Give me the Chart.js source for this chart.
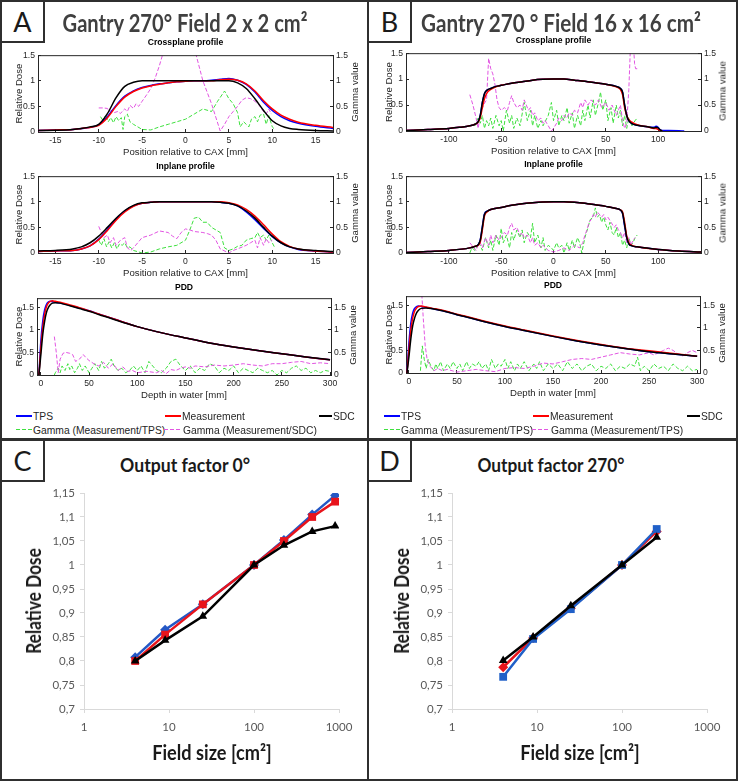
<!DOCTYPE html>
<html>
<head>
<meta charset="utf-8">
<script src="https://cdn.jsdelivr.net/npm/chart.js@4.4.0/dist/chart.umd.min.js"></script>
<style>
  body { margin: 0; background: #fff; }
  #fig { position: relative; width: 738px; height: 781px; overflow: hidden; background: #fff; font-family: "Liberation Sans", Arial, sans-serif; color: #262626; }
  canvas { position: absolute; }
  .t { position: absolute; white-space: nowrap; transform: translate(-50%, -50%); }
  .line { position: absolute; background: #2f2f2f; }
  .lab { position: absolute; box-sizing: border-box; border: 2px solid #2f2f2f; background: #fff;
         font-family: Lato, "Open Sans", sans-serif; font-size: 27px; color: #1a1a1a;
         display: flex; align-items: center; justify-content: center; }
  .big { font-family: Lato, "Open Sans", sans-serif; font-weight: 700; color: #404040; }
  .sub { font-weight: 700; font-size: 8.6px; color: #000; }
  .leg { position: absolute; font-size: 10.3px; color: #262626; white-space: nowrap; transform: translateY(-50%); }
  .sw { position: absolute; }
</style>
</head>
<body>
<div id="fig"></div>
<script>
// ---------- Panel A : 2 x 2 cm2 ----------
const aProfX = [-17,-15,-13,-12,-11,-10,-9,-8,-7,-6,-5,-4,-3,-2,-1,0,1,2,3,4,5,6,7,8,9,10,11,12,13,15,17];
const aCrossTPS  = [0.03,0.04,0.05,0.07,0.09,0.14,0.3,0.52,0.7,0.8,0.87,0.91,0.94,0.96,0.98,0.99,1,1,1.01,1.03,1.045,1.01,0.93,0.78,0.58,0.42,0.3,0.22,0.17,0.11,0.07];
const aCrossMeas = [0.03,0.04,0.05,0.07,0.09,0.13,0.28,0.5,0.68,0.79,0.86,0.9,0.93,0.96,0.98,0.99,1,1,1,1.02,1.03,1.01,0.94,0.8,0.61,0.45,0.33,0.25,0.19,0.13,0.09];
const aCrossSDC  = [0.03,0.035,0.05,0.07,0.1,0.15,0.36,0.67,0.89,0.97,1,1,1,1,1,1,1,1,1,1,1,0.96,0.85,0.65,0.42,0.22,0.12,0.07,0.05,0.03,0.02];
const aCrossGTx = [-9.8,-9.5,-9.2,-8.9,-8.6,-8.3,-8,-7.7,-7.4,-7.2,-7,-6.7,-6.4,-6,-5.5,-5,-4,-3,-2,-1,0,1,2,3,3.7,4.5,5,5.5,6,6.3,6.7,7,7.3,7.6,8,8.3,8.6,9,9.3,9.6,10,10.3];
const aCrossGT  = [0.3,0.22,0.33,0.2,0.28,0.18,0.3,0.22,0.28,0.05,0.3,0.35,0.2,0.15,0.1,0.05,0.04,0.1,0.15,0.2,0.25,0.35,0.45,0.4,0.6,0.8,0.65,0.55,0.38,0.1,0.2,0.15,0.1,0.25,0.3,0.2,0.33,0.35,0.15,0.32,0.1,0.05];
const aCrossGSx = [-10,-9.5,-9,-8.8,-8.5,-8.2,-7.8,-7.5,-7.2,-7,-6.7,-6.4,-6,-5.7,-5.4,-5,-4.5,-4,-3.5,-3,-2.4,1,2,3,4,4.5,5,5.5,6,6.5,7,7.5,8,8.5,9,9.3,9.6,9.9];
const aCrossGS  = [0.47,0.47,0.46,0.4,0.42,0.38,0.4,0.36,0.42,0.45,0.4,0.52,0.46,0.55,0.5,0.6,0.72,0.85,1.05,1.3,1.65,1.65,1.0,0.55,0.02,0.15,0.3,0.4,0.5,0.62,0.67,0.65,0.6,0.52,0.4,0.35,0.45,0.35];

const aInSDC  = [0.04,0.05,0.08,0.12,0.2,0.33,0.5,0.68,0.83,0.93,0.98,0.99,1,1,1,1,1,1,1,0.99,0.97,0.92,0.82,0.68,0.5,0.33,0.2,0.12,0.08,0.05,0.03];
const aInMeas = [0.03,0.04,0.05,0.08,0.14,0.26,0.44,0.64,0.8,0.91,0.97,0.99,1,1,1,1,1,1,1,1,0.98,0.94,0.85,0.72,0.55,0.37,0.22,0.13,0.08,0.04,0.02];
const aInTPS  = [0.03,0.04,0.05,0.08,0.14,0.27,0.46,0.66,0.82,0.92,0.97,0.99,1,1,1,1,1,1,1,0.99,0.97,0.92,0.8,0.65,0.48,0.32,0.2,0.12,0.07,0.04,0.02];
const aInGTx = [-10,-9.7,-9.4,-9.1,-8.8,-8.5,-8.2,-7.9,-7.6,-7.3,-7,-6.7,-6.4,-6,-5,-4,-3,-2,-1,0,0.5,1,1.5,2,2.5,3,3.5,4,4.5,5,5.5,6,6.5,7,7.5,8,8.3,8.6,9,9.3,9.6,10,10.3];
const aInGT  = [0.25,0.15,0.28,0.12,0.22,0.1,0.2,0.08,0.18,0.15,0.2,0.1,0.12,0.05,0,0.02,0.08,0.12,0.15,0.25,0.45,0.68,0.7,0.6,0.6,0.5,0.45,0.4,0.1,0.05,0.08,0.13,0.15,0.25,0.28,0.3,0.4,0.3,0.35,0.25,0.35,0.2,0.1];
const aInGSx = [-10,-9.7,-9.4,-9,-8.7,-8.3,-8,-7.5,-7,-6.7,-6.3,-6,-5.5,-5,-4,-3,-2,-1.5,-1,-0.5,0,0.5,1,2,2.5,3,3.5,4,5,5.5,6,7,7.5,8,8.3,8.6,9,9.3,9.6,10];
const aInGS  = [0.52,0.4,0.3,0.35,0.2,0.3,0.15,0.25,0.3,0.1,0.05,0.1,0.2,0.3,0.35,0.43,0.4,0.33,0.28,0.4,0.47,0.45,0.42,0.4,0.38,0.35,0.25,0.08,0,0.05,0.08,0.15,0.2,0.25,0.1,0.3,0.15,0.28,0.2,0.25];

const aPddX    = [-2,0,2,4,6,8,10,12,15,20,30,40,50,60,80,100,120,150,175,200,225,250,275,300];
const aPddTPS  = [0,0.75,1.2,1.45,1.57,1.62,1.63,1.62,1.61,1.59,1.54,1.48,1.42,1.35,1.21,1.07,0.96,0.82,0.71,0.62,0.54,0.47,0.4,0.335];
const aPddMeas = [0,0.6,1.05,1.35,1.52,1.6,1.63,1.64,1.63,1.61,1.55,1.49,1.42,1.35,1.21,1.07,0.96,0.82,0.71,0.62,0.54,0.47,0.4,0.335];
const aPddSDC  = [0,0.45,0.9,1.2,1.4,1.5,1.56,1.59,1.6,1.59,1.53,1.47,1.41,1.34,1.2,1.07,0.96,0.82,0.71,0.62,0.54,0.47,0.4,0.34];
const aPddGTx = [14,15,18,20,22,25,28,30,32,35,38,40,43,46,50,53,56,60,63,66,70,73,76,80,84,88,92,96,100,104,108,112,116,120,125,130,135,140,145,150,155,160,165,170,175,180,185,190,195,200,205,210,215,220,225,230,235,240,245,250,255,260,265,270,275,280,285,290,295,300];
const aPddGT  = [0,0.05,0.15,0.05,0.2,0.1,0.25,0.12,0.2,0.05,0.15,0.25,0.1,0.2,0.05,0.15,0.25,0.1,0.3,0.15,0.25,0.35,0.2,0.1,0.15,0.05,0.1,0.2,0.1,0.2,0.05,0.3,0.2,0.1,0.05,0.15,0.3,0.35,0.2,0.1,0.2,0.05,0.15,0.1,0.25,0.2,0.05,0.15,0.1,0.2,0.05,0.15,0.1,0.05,0.15,0.1,0.05,0.1,0,0.1,0.05,0.15,0.2,0.1,0.15,0.05,0.1,0.05,0.1,0.08];
const aPddGSx = [14,16,18,20,23,26,30,33,36,40,44,47,50,55,60,65,70,75,80,85,90,95,100,110,120,125,130,135,140,145,150,155,160,170,180,190,200,210,220,230,240,250,260,270,280,290,300];
const aPddGS  = [0.85,0.5,0.05,0.35,0.48,0.5,0.48,0.45,0.3,0.35,0.45,0.38,0.32,0.25,0.2,0.28,0.15,0.25,0.1,0.18,0.08,0.1,0.05,0.08,0.05,0.1,0.03,0.12,0.1,0.15,0.18,0.15,0.2,0.18,0.22,0.2,0.22,0.25,0.22,0.2,0.25,0.25,0.28,0.3,0.25,0.27,0.25];

// ---------- Panel B : 16 x 16 cm2 ----------
const bProfX = [-141,-120,-100,-90,-80,-75,-72,-70,-68,-66,-64,-60,-55,-50,-40,-30,-20,-10,0,10,20,30,40,50,60,64,66,68,70,72,75,80,90,96,98,100,102,104];
const bCrossSDC  = [0.01,0.03,0.05,0.07,0.1,0.13,0.18,0.3,0.55,0.72,0.78,0.82,0.86,0.88,0.92,0.95,0.98,0.995,1,1,0.98,0.96,0.93,0.9,0.86,0.82,0.75,0.5,0.3,0.2,0.14,0.11,0.08,0.06,0.07,0.06,0.02,0];
const bCrossMeas = [0.01,0.03,0.05,0.07,0.1,0.13,0.17,0.26,0.45,0.62,0.72,0.8,0.85,0.88,0.92,0.95,0.98,0.995,1,1,0.98,0.96,0.93,0.9,0.85,0.8,0.7,0.45,0.3,0.22,0.17,0.12,0.08,0.05,0.05,0.03,0.01,0];
const bCrossTPSX = [-141,-120,-100,-90,-80,-75,-72,-70,-68,-66,-64,-60,-55,-50,-40,-30,-20,-10,0,10,20,30,40,50,60,64,66,68,70,72,75,80,90,96,98,100,102,104,110,125];
const bCrossTPS  = [0.01,0.03,0.05,0.07,0.1,0.13,0.18,0.3,0.55,0.72,0.78,0.82,0.86,0.88,0.92,0.95,0.98,0.995,1,1,0.98,0.96,0.93,0.9,0.86,0.82,0.75,0.5,0.3,0.2,0.14,0.11,0.08,0.07,0.09,0.07,0.02,0.01,0.01,0];
const bCrossGTx = [-75,-72,-70,-68,-66,-64,-62,-60,-58,-55,-52,-50,-48,-45,-42,-40,-38,-35,-32,-28,-25,-22,-20,-18,-15,-12,-10,-5,-2,0,3,5,8,10,13,15,18,20,23,26,28,30,33,35,38,40,43,45,47,50,52,55,57,60,62,64,66,68,70,72,75,78,80];
const bCrossGT  = [0.1,0.25,0.15,0.3,0.05,0.2,0.1,0.25,0.05,0.3,0.1,0.2,0,0.4,0.15,0.3,0.05,0.25,0.1,0.55,0.2,0.4,0.1,0.3,0.05,0.2,0.1,0.3,0.55,0.2,0.4,0.1,0.3,0.2,0.45,0.15,0.35,0.05,0.3,0.1,0.4,0.2,0.5,0.25,0.6,0.3,0.55,0.75,0.4,0.6,0.2,0.45,0.15,0.5,0.25,0.4,0.1,0.3,0.05,0.25,0.1,0.2,0.25];
const bCrossGSx = [-80,-77,-74,-72,-70,-67,-64,-62,-60,-58,-56,-54,-52,-50,-47,-44,-42,-40,-38,-35,-32,-30,-28,-26,-24,-22,-20,-18,-15,-12,-10,-8,-5,-2,0,3,5,8,10,13,15,18,20,23,26,28,30,33,36,40,43,46,50,53,56,60,64,66,68,70,72,73.5,76,77.5,78.5,81];
const bCrossGS  = [0.7,0.5,0.25,0.05,0.3,0.5,0.6,1.4,1.2,1.1,0.9,0.6,0.45,0.4,0.45,0.4,0.55,0.68,0.55,0.45,0.5,0.4,0.6,0.5,0.4,0.45,0.3,0.35,0.2,0.25,0.15,0.2,0.1,0,0.05,0.15,0.25,0.2,0.3,0.25,0.35,0.3,0.4,0.35,0.55,0.45,0.6,0.5,0.6,0.5,0.6,0.45,0.55,0.4,0.5,0.3,0.5,0.2,0.05,0.15,0.8,1.6,1.8,1.3,1.2,1.2];

const bInX    = [-141,-120,-100,-80,-75,-72,-70,-68,-66,-63,-60,-50,-40,-30,-20,-10,0,10,20,30,40,50,60,64,66,68,70,72,75,80,100,120,141];
const bInSDC  = [0.01,0.03,0.05,0.1,0.13,0.16,0.25,0.5,0.75,0.82,0.85,0.89,0.93,0.96,0.98,0.995,1,1,0.99,0.97,0.94,0.91,0.87,0.84,0.78,0.55,0.3,0.18,0.14,0.12,0.07,0.04,0.02];
const bInMeas = [0.01,0.03,0.05,0.1,0.13,0.15,0.22,0.45,0.72,0.81,0.85,0.89,0.93,0.96,0.98,0.995,1,1,0.99,0.97,0.94,0.91,0.87,0.84,0.8,0.6,0.33,0.2,0.15,0.12,0.07,0.04,0.02];
const bInTPS  = [0.01,0.03,0.05,0.1,0.13,0.16,0.26,0.52,0.76,0.82,0.85,0.89,0.93,0.96,0.98,0.995,1,1,0.99,0.97,0.94,0.91,0.87,0.84,0.77,0.52,0.3,0.18,0.14,0.12,0.07,0.04,0.02];
const bInGTx = [-80,-78,-75,-72,-70,-68,-65,-62,-60,-58,-55,-52,-50,-48,-45,-42,-40,-38,-35,-32,-30,-28,-25,-22,-20,-18,-15,-12,-10,-8,-5,-2,0,3,5,8,10,13,15,18,20,23,25,27,30,33,35,38,40,42,44,46,48,50,52,54,56,58,60,62,64,66,68,70,72,74,76,78,80];
const bInGT  = [0,0.1,0.05,0.2,0.15,0.05,0.3,0.1,0.25,0.05,0.35,0.15,0.48,0.2,0.35,0.1,0.4,0.25,0.45,0.3,0.45,0.2,0.4,0.3,0.58,0.2,0.35,0.1,0.3,0.05,0.15,0.1,0.05,0.2,0.1,0.15,0,0.2,0.05,0.25,0.1,0.3,0.2,0,0.3,0.5,0.65,0.7,0.88,0.7,0.75,0.6,0.7,0.55,0.45,0.6,0.4,0.35,0.5,0.3,0.4,0.15,0.25,0.1,0.3,0.15,0.2,0.3,0.35];
const bInGSx = [-80,-78,-76,-74,-72,-70,-68,-65,-62,-60,-58,-55,-52,-50,-47,-44,-42,-40,-38,-35,-32,-30,-28,-25,-22,-20,-18,-15,-12,-10,-5,0,5,10,15,20,25,28,30,32,34,36,38,40,42,44,46,48,50,52,55,58,60,62,64,66,68,70,72,74,76,78];
const bInGS  = [0.2,0.15,0.1,0.05,0.15,0.2,0.1,0.3,0.15,0.35,0.2,0.35,0.25,0.3,0.4,0.35,0.5,0.58,0.45,0.5,0.35,0.4,0.3,0.35,0.2,0.3,0.15,0.2,0.1,0.15,0.05,0.02,0.05,0.1,0.05,0.15,0.1,0.2,0.35,0.45,0.6,0.65,0.75,0.7,0.8,0.75,0.7,0.75,0.65,0.7,0.6,0.5,0.55,0.45,0.4,0.3,0.4,0.2,0.3,0.15,0.25,0.3];

const bPddX    = [-2,0,2,4,6,8,10,13,18,25,30,40,50,60,80,100,120,150,175,200,225,250,275,300];
const bPddTPS  = [0,0.65,1.1,1.33,1.43,1.47,1.48,1.47,1.45,1.42,1.4,1.35,1.29,1.24,1.13,1.03,0.94,0.81,0.71,0.62,0.54,0.47,0.42,0.37];
const bPddMeas = [0,0.5,0.95,1.22,1.37,1.44,1.47,1.48,1.46,1.43,1.41,1.36,1.3,1.25,1.14,1.04,0.95,0.82,0.72,0.63,0.55,0.49,0.43,0.37];
const bPddSDC  = [0,0.35,0.75,1.05,1.22,1.33,1.39,1.43,1.44,1.42,1.4,1.35,1.29,1.24,1.13,1.03,0.94,0.81,0.71,0.62,0.54,0.47,0.42,0.37];
const bPddGTx = [12,14,16,18,20,23,26,28,30,33,36,40,43,46,50,53,56,60,63,66,70,73,76,80,83,86,90,93,96,100,103,106,110,113,116,120,125,130,133,136,140,145,150,155,160,165,170,175,180,185,190,195,200,205,210,215,220,225,230,235,238,241,245,250,255,260,265,270,275,280,285,290,295,300];
const bPddGT  = [0.05,0.6,0.3,0.1,0.3,0.15,0.05,0.2,0.1,0.25,0.05,0.2,0.1,0.25,0.1,0.2,0.05,0.25,0.1,0.2,0.15,0.25,0.1,0.2,0.05,0.3,0.1,0.2,0.15,0.3,0.1,0.25,0.05,0.2,0.1,0.25,0.05,0.2,0.1,0.25,0.05,0.2,0.1,0.2,0.05,0.25,0.1,0.2,0.05,0.15,0.2,0.05,0.15,0.1,0.2,0.05,0.15,0.1,0.2,0.15,0.35,0.05,0.15,0.05,0.2,0.1,0.15,0.05,0.2,0.1,0.05,0.15,0.05,0.08];
const bPddGSx = [12,13,15,17,19,22,26,30,35,40,45,50,60,70,80,90,100,110,120,130,140,150,160,170,180,190,200,210,220,230,240,250,255,260,265,270,275,280,285,290,295,300];
const bPddGS  = [2.0,1.9,1.2,0.6,0.3,0.15,0.05,0.1,0.05,0.08,0.05,0.02,0.05,0.08,0.05,0.03,0.1,0.12,0.1,0.15,0.22,0.2,0.25,0.3,0.32,0.3,0.35,0.4,0.45,0.42,0.4,0.45,0.4,0.45,0.5,0.55,0.5,0.42,0.38,0.45,0.5,0.45];

// ticks
const crossTicksA = [-15,-10,-5,0,5,10,15];
const crossTicksB = [-100,-50,0,50,100];
const pddTicks = [0,50,100,150,200,250,300];
const doseTicks = [0,0.5,1,1.5];

// ---------- Panels C / D : output factors ----------
const ofFieldC = [4,9,25,100,225,484,900];
const ofTpsC   = [0.808,0.865,0.918,1.0,1.052,1.105,1.145];
const ofMeasC  = [0.8,0.855,0.918,1.0,1.05,1.1,1.132];
const ofSdcC   = [0.8,0.843,0.893,1.0,1.041,1.07,1.081];
const ofFieldD = [4,9,25,100,256];
const ofTpsD   = [0.767,0.846,0.908,1.0,1.075];
const ofMeasD  = [0.787,0.848,0.91,1.0,1.07];
const ofSdcD   = [0.801,0.85,0.915,1.0,1.058];
const ofXTicks = [1,10,100,1000];
const ofYTicks = [0.7,0.75,0.8,0.85,0.9,0.95,1,1.05,1.1,1.15];
const ofYLabels = ['0,7','0,75','0,8','0,85','0,9','0,95','1','1,05','1,1','1,15'];

// ---------- helpers ----------
const fig = document.getElementById('fig');
const INK = '#262626';
const C_TPS = '#0000ff', C_MEAS = '#ff0000', C_SDC = '#000000', C_GT = '#3ee03e', C_GS = '#e255e2';

function addCanvas(left, top, w, h) {
  const c = document.createElement('canvas');
  c.width = w; c.height = h;
  c.style.left = left + 'px'; c.style.top = top + 'px';
  fig.appendChild(c);
  return c;
}

function addText(txt, x, y, cls, style) {
  const d = document.createElement('div');
  d.className = 't ' + (cls || '');
  d.textContent = txt;
  d.style.left = x + 'px'; d.style.top = y + 'px';
  Object.assign(d.style, style || {});
  fig.appendChild(d);
  return d;
}

// squeeze a text to a target width (the reference uses a narrow font)
function fitWidth(el, w, rot) {
  const k = w / el.offsetWidth;
  el.style.transform = 'translate(-50%,-50%)' + (rot ? ' rotate(-90deg)' : '') + ' scaleX(' + k + ')';
}

function series(xs, ys, color, width, dashed, axis) {
  return {
    data: xs.map((x, i) => ({ x: x, y: ys[i] })),
    borderColor: color, borderWidth: width,
    borderDash: dashed ? [4, 2] : [],
    pointRadius: 0, yAxisID: axis,
    cubicInterpolationMode: dashed ? 'default' : 'monotone', tension: 0
  };
}

const boxPlugin = {
  id: 'box',
  afterDatasetsDraw(chart) {
    const a = chart.chartArea, c = chart.ctx;
    c.save(); c.strokeStyle = INK; c.lineWidth = 1;
    c.beginPath(); c.moveTo(a.left, a.top + 0.5); c.lineTo(a.right, a.top + 0.5); c.stroke();
    c.restore();
  }
};

const tickFont = { family: '"Liberation Sans", Arial, sans-serif', size: 8.6 };
const titleFont = { family: '"Liberation Sans", Arial, sans-serif', size: 9.6 };

function profile(o) {
  const top = o.plotT - 8;
  const cv = addCanvas(o.px, top, o.pw, o.plotB - top + 32);
  const axisBase = {
    grid: { drawOnChartArea: false, tickLength: -3, color: INK, lineWidth: 1 },
    border: { color: INK, width: 1 },
    ticks: { font: tickFont, color: INK, padding: 6, callback: v => String(v) }
  };
  new Chart(cv, {
    type: 'line',
    data: { datasets: o.sets },
    options: {
      responsive: false, animation: false, events: [],
      layout: { padding: { top: 8, left: 0, right: 0, bottom: 0 } },
      plugins: { legend: { display: false }, tooltip: { enabled: false } },
      scales: {
        x: Object.assign({}, axisBase, {
          type: 'linear', min: o.xMin, max: o.xMax,
          afterBuildTicks: s => { s.ticks = o.xTicks.map(v => ({ value: v })); },
          afterFit: s => { s.height = 32; },
          ticks: { font: tickFont, color: INK, padding: 6, maxRotation: 0, callback: v => String(v) },
          title: { display: true, text: o.xTitle, font: titleFont, color: INK, padding: { top: 0, bottom: 6 } }
        }),
        y: Object.assign({}, axisBase, {
          position: 'left', min: 0, max: o.yMax,
          afterBuildTicks: s => { s.ticks = doseTicks.map(v => ({ value: v })); },
          afterFit: s => { s.width = o.plotL - o.px; },
          title: { display: true, text: 'Relative Dose', font: titleFont, color: INK, padding: { top: o.yTitlePad, bottom: 0 } }
        }),
        y2: Object.assign({}, axisBase, {
          position: 'right', min: 0, max: o.yMax,
          afterBuildTicks: s => { s.ticks = doseTicks.map(v => ({ value: v })); },
          afterFit: s => { s.width = o.px + o.pw - o.plotR; }
        })
      }
    },
    plugins: [boxPlugin]
  });
  addText(o.title, (o.plotL + o.plotR) / 2, o.titleY, 'sub');
  const g = addText('Gamma value', o.plotR + 21, (o.plotT + o.plotB) / 2, '', { fontSize: '9.6px', color: INK });
  g.style.transform = 'translate(-50%,-50%) rotate(-90deg)';
}

function doseSets(xs, tps, meas, sdc, gtx, gt, gsx, gs, tpsX) {
  return [
    series(xs, sdc, C_SDC, 1.5, false, 'y'),
    series(xs, meas, C_MEAS, 1.5, false, 'y'),
    series(tpsX || xs, tps, C_TPS, 1.5, false, 'y'),
    series(gsx, gs, C_GS, 1, true, 'y2'),
    series(gtx, gt, C_GT, 1, true, 'y2')
  ];
}

function legend(px, y1, y2, lastLabel) {
  const items = [
    [px + 16, y1, C_TPS, false, 'TPS', 16],
    [px + 165, y1, C_MEAS, false, 'Measurement', 16],
    [px + 319, y1, C_SDC, false, 'SDC', 13],
    [px + 16, y2, C_GT, true, 'Gamma (Measurement/TPS)', 16],
    [px + 164, y2, C_GS, true, lastLabel, 18]
  ];
  items.forEach(([x, y, col, dashed, txt, len]) => {
    const s = document.createElement('div');
    s.className = 'sw';
    Object.assign(s.style, {
      left: x + 'px', top: (y - 1) + 'px', width: len + 'px', height: dashed ? '1px' : '2px',
      background: dashed ? 'repeating-linear-gradient(to right,' + col + ' 0 4px, transparent 4px 6px)' : col
    });
    fig.appendChild(s);
    const t = document.createElement('div');
    t.className = 'leg'; t.textContent = txt;
    t.style.left = (x + len + 1) + 'px'; t.style.top = y + 'px';
    fig.appendChild(t);
  });
}

function ofChart(px, sets) {
  const cv = addCanvas(px, 481, 368, 298);
  const f = { family: 'Lato, "Open Sans", sans-serif', size: 11.5 };
  new Chart(cv, {
    type: 'line',
    data: { datasets: sets },
    options: {
      responsive: false, animation: false, events: [],
      layout: { padding: { top: 12, right: 29, left: 0, bottom: 0 } },
      plugins: { legend: { display: false }, tooltip: { enabled: false } },
      scales: {
        x: {
          type: 'logarithmic', min: 1, max: 1000,
          afterBuildTicks: s => { s.ticks = ofXTicks.map(v => ({ value: v })); },
          afterFit: s => { s.height = 70; },
          ticks: { font: f, color: '#595959', padding: 7, maxRotation: 0, callback: v => String(v) },
          grid: { drawOnChartArea: false, tickLength: 4, color: '#d9d9d9' },
          border: { color: '#d9d9d9', width: 1 }
        },
        y: {
          min: 0.7, max: 1.15,
          afterBuildTicks: s => { s.ticks = ofYTicks.map(v => ({ value: v })); },
          afterFit: s => { s.width = 84; },
          ticks: { font: f, color: '#595959', padding: 5, callback: v => ofYLabels[ofYTicks.indexOf(v)] },
          grid: { drawOnChartArea: false, tickLength: 4, color: '#d9d9d9' },
          border: { color: '#d9d9d9', width: 1 }
        }
      }
    }
  });
  const yt = addText('Relative Dose', px + 33, 601, 'big', { fontSize: '20px', color: '#1a1a1a' });
  fitWidth(yt, 106, true);
  const xt = addText('Field size [cm²]', px + 212, 752, 'big', { fontSize: '20px', color: '#1a1a1a' });
  fitWidth(xt, 120, false);
}

function ofSet(xs, ys, color, shape, r) {
  return {
    data: xs.map((x, i) => ({ x: x, y: ys[i] })),
    borderColor: color, borderWidth: 2.5, backgroundColor: color,
    pointStyle: shape, pointRadius: r, pointBackgroundColor: color, pointBorderColor: color,
    pointBorderWidth: 0, tension: 0
  };
}

// ---------- build ----------
// panel A
profile({ px: 0, pw: 368, plotL: 38, plotR: 333, plotT: 52, plotB: 132, xMin: -17, xMax: 17, yMax: 1.5,
  xTicks: crossTicksA, xTitle: 'Position relative to CAX [mm]', title: 'Crossplane profile', titleY: 42, yTitlePad: 14,
  sets: doseSets(aProfX, aCrossTPS, aCrossMeas, aCrossSDC, aCrossGTx, aCrossGT, aCrossGSx, aCrossGS) });
profile({ px: 0, pw: 368, plotL: 38, plotR: 333, plotT: 173, plotB: 253, xMin: -17, xMax: 17, yMax: 1.5,
  xTicks: crossTicksA, xTitle: 'Position relative to CAX [mm]', title: 'Inplane profile', titleY: 166, yTitlePad: 14,
  sets: doseSets(aProfX, aInTPS, aInMeas, aInSDC, aInGTx, aInGT, aInGSx, aInGS) });
profile({ px: 0, pw: 368, plotL: 37, plotR: 331, plotT: 295, plotB: 375, xMin: -4, xMax: 301, yMax: 1.7,
  xTicks: pddTicks, xTitle: 'Depth in water [mm]', title: 'PDD', titleY: 287, yTitlePad: 14,
  sets: doseSets(aPddX, aPddTPS, aPddMeas, aPddSDC, aPddGTx, aPddGT, aPddGSx, aPddGS) });

// panel B
profile({ px: 368, pw: 370, plotL: 406, plotR: 701, plotT: 50, plotB: 131, xMin: -141, xMax: 141, yMax: 1.5,
  xTicks: crossTicksB, xTitle: 'Position relative to CAX [mm]', title: 'Crossplane profile', titleY: 40, yTitlePad: 16,
  sets: doseSets(bProfX, bCrossTPS, bCrossMeas, bCrossSDC, bCrossGTx, bCrossGT, bCrossGSx, bCrossGS, bCrossTPSX) });
profile({ px: 368, pw: 370, plotL: 406, plotR: 701, plotT: 173, plotB: 253, xMin: -141, xMax: 141, yMax: 1.5,
  xTicks: crossTicksB, xTitle: 'Position relative to CAX [mm]', title: 'Inplane profile', titleY: 164, yTitlePad: 16,
  sets: doseSets(bInX, bInTPS, bInMeas, bInSDC, bInGTx, bInGT, bInGSx, bInGS) });
profile({ px: 368, pw: 370, plotL: 406, plotR: 700, plotT: 293, plotB: 373, xMin: -3, xMax: 303, yMax: 1.7,
  xTicks: pddTicks, xTitle: 'Depth in water [mm]', title: 'PDD', titleY: 285, yTitlePad: 16,
  sets: doseSets(bPddX, bPddTPS, bPddMeas, bPddSDC, bPddGTx, bPddGT, bPddGSx, bPddGS) });

legend(0, 416, 430, 'Gamma (Measurement/SDC)');
legend(368, 416, 430, 'Gamma (Measurement/TPS)');

// panels C, D
ofChart(0, [
  ofSet(ofFieldC, ofSdcC, '#000000', 'triangle', 5),
  ofSet(ofFieldC, ofMeasC, '#e8141c', 'rect', 5.5),
  ofSet(ofFieldC, ofTpsC, '#2457c5', 'rectRot', 5)
]);
ofChart(368, [
  ofSet(ofFieldD, ofSdcD, '#000000', 'triangle', 5),
  ofSet(ofFieldD, ofTpsD, '#2060c8', 'rect', 5.5),
  ofSet(ofFieldD, ofMeasD, '#e8141c', 'rectRot', 5)
]);

// frame lines and panel labels
[[0, 0, 738, 2], [0, 779, 738, 2], [0, 0, 2, 781], [736, 0, 2, 781], [367, 0, 2, 781], [0, 438, 738, 3]]
  .forEach(([x, y, w, h]) => {
    const d = document.createElement('div'); d.className = 'line';
    Object.assign(d.style, { left: x + 'px', top: y + 'px', width: w + 'px', height: h + 'px' });
    fig.appendChild(d);
  });
[['A', 0, 0], ['B', 367, 0], ['C', 0, 439], ['D', 367, 439]].forEach(([t, x, y]) => {
  const d = document.createElement('div'); d.className = 'lab'; d.textContent = t;
  Object.assign(d.style, { left: x + 'px', top: y + 'px', width: '45px', height: '43px' });
  fig.appendChild(d);
});

fitWidth(addText('Gantry 270° Field 2 x 2 cm²', 185, 22, 'big', { fontSize: '25px' }), 245);
fitWidth(addText('Gantry 270 ° Field 16 x 16 cm²', 561, 22, 'big', { fontSize: '25px' }), 280);
fitWidth(addText('Output factor 0°', 185, 464, 'big', { fontSize: '19px', color: '#1a1a1a' }), 130);
fitWidth(addText('Output factor 270°', 551, 464, 'big', { fontSize: '19px', color: '#1a1a1a' }), 147);
</script>
</body>
</html>
